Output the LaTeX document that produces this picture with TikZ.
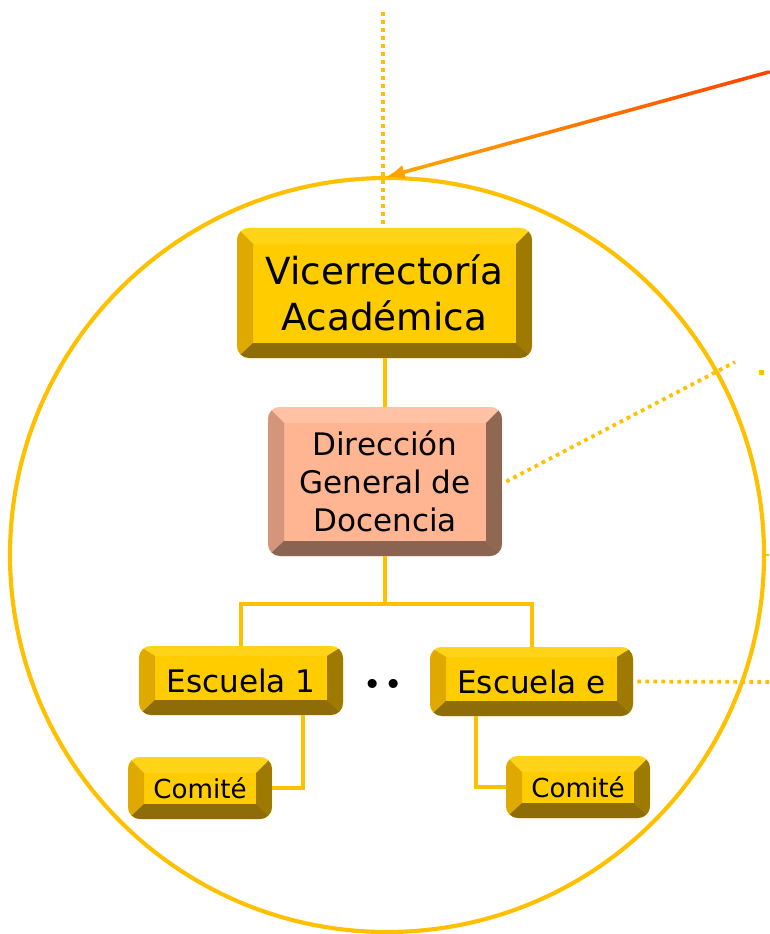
\documentclass[tikz,border=0pt]{standalone}
\usepackage{fontspec}
\setmainfont{DejaVu Sans}
\usepackage{tikz}
\usetikzlibrary{arrows.meta, calc, positioning}
\usepackage{xcolor}

\definecolor{ringcol}{HTML}{FFC000}
\definecolor{faceY}{HTML}{FFCC00}
\definecolor{topY}{HTML}{FFD418}
\definecolor{leftY}{HTML}{DFA900}
\definecolor{rightY}{HTML}{9F7A00}
\definecolor{bottomY}{HTML}{8E6C08}
\definecolor{faceS}{HTML}{FFB592}
\definecolor{topS}{HTML}{FFC2A4}
\definecolor{leftS}{HTML}{D4957A}
\definecolor{rightS}{HTML}{8F6752}
\definecolor{bottomS}{HTML}{8A6450}
\definecolor{arrowA}{HTML}{FF4500}
\definecolor{arrowB}{HTML}{FFA200}

\tikzset{
  bevT/.store in=\bevT, bevS/.store in=\bevS, bevB/.store in=\bevB,
  bevT=16, bevS=16, bevB=15,
  bevelbox/.style n args={5}{draw=none, fill=#1, rounded corners=9, inner sep=0pt, align=center,
    path picture={
      \path (path picture bounding box.north west) coordinate (pnw)
            (path picture bounding box.south east) coordinate (pse);
      \fill[#2, sharp corners] (pnw) -- (pnw -| pse) -- ($(pnw -| pse)+(-\bevS,\bevT)$) -- ($(pnw)+(\bevS,\bevT)$) -- cycle;
      \fill[#3, sharp corners] (pnw) -- ($(pnw)+(\bevS,\bevT)$) -- ($(pnw |- pse)+(\bevS,-\bevB)$) -- (pnw |- pse) -- cycle;
      \fill[#4, sharp corners] (pnw -| pse) -- (pse) -- ($(pse)+(-\bevS,-\bevB)$) -- ($(pnw -| pse)+(-\bevS,\bevT)$) -- cycle;
      \fill[#5, sharp corners] (pnw |- pse) -- (pse) -- ($(pse)+(-\bevS,-\bevB)$) -- ($(pnw |- pse)+(\bevS,-\bevB)$) -- cycle;
    }},
  goldbox/.style={bevelbox={faceY}{topY}{leftY}{rightY}{bottomY}},
  salmonbox/.style={bevelbox={faceS}{topS}{leftS}{rightS}{bottomS}},
  link/.style={ringcol, line width=3pt},
  dotline/.style={ringcol, line width=2.8pt, dash pattern=on 2.8pt off 3.2pt},
}

\begin{document}
\begin{tikzpicture}[x=0.75pt, y=-0.75pt]
    \useasboundingbox (0,0) rectangle (769,934);

	% outer circle
    \draw[ringcol, line width=3.1pt] (387,555) circle[radius=377];
    \draw[ringcol, line width=1.8pt] (765,555) -- (769,555);

	% boxes
    \node[goldbox, minimum width=295*0.75pt, minimum height=130*0.75pt,
    	font=\fontsize{28}{34.5}\selectfont] (vice) at (384.5,293) {Vicerrectoría\\Académica};
    \node[salmonbox, minimum width=234*0.75pt, minimum height=149*0.75pt,
    	font=\fontsize{23.3}{28.5}\selectfont] (dir) at (385,481.5) {Dirección\\General de\\Docencia};
    \node[goldbox, bevT=10, minimum width=204*0.75pt, minimum height=69*0.75pt,
    	font=\fontsize{23.3}{28}\selectfont] (esc1) at (241,680.5) {Escuela 1};
    \node[goldbox, bevT=10, minimum width=203*0.75pt, minimum height=69*0.75pt,
    	font=\fontsize{23.3}{28}\selectfont] (esce) at (531.5,681.5) {Escuela e};
    \node[goldbox, minimum width=144*0.75pt, minimum height=62*0.75pt,
    	font=\fontsize{19.6}{23}\selectfont] (com1) at (200,788) {Comité};
    \node[goldbox, minimum width=144*0.75pt, minimum height=62*0.75pt,
    	font=\fontsize{19.6}{23}\selectfont] (com2) at (578,787) {Comité};
    \node[font=\fontsize{23.3}{28}\selectfont] (dots) at (383,687) {•\hspace{0.1em}•};

	% tree lines
    \draw[link] (vice.south) -- (vice.south |- dir.north);
    \draw[link] (dir.south) -- ++(0,48) coordinate (fork);
    \draw[link] (esc1.north) |- (fork) -| (esce.north);
    \draw[link] ([xshift=62*0.75pt]esc1.south) |- (com1.east);
    \draw[link] ([xshift=-56*0.75pt]esce.south) |- (com2.west);

	% dotted lines going out
    \coordinate (vtop) at (383,12);
    \coordinate (dirout) at (735,362);
    \coordinate (escout) at (769,682);
    \draw[dotline] (vtop) -- (vtop |- vice.north);
    \draw[dotline] ([xshift=3pt]dir.east) -- (dirout);
    \draw[dotline] ([xshift=3pt]esce.east) -- (escout);
    \fill[ringcol] (759,370) rectangle (764,375);

	% incoming arrow
    \coordinate (src) at (769,72);
    \coordinate (tgt) at (386,177);
    \foreach \i in {0,...,23} {
    	\pgfmathtruncatemacro\pct{100*\i/23}
    	\draw[line width=2.7pt, line cap=round, arrowB!\pct!arrowA]
    		($(src)!{\i*0.93/24}!(tgt)$) -- ($(src)!{(\i+1)*0.93/24}!(tgt)$);
    }
    \draw[-{Latex[length=14pt,width=11pt]}, line width=2.7pt, arrowB] ($(src)!0.92!(tgt)$) -- (tgt);
\end{tikzpicture}
\end{document}
